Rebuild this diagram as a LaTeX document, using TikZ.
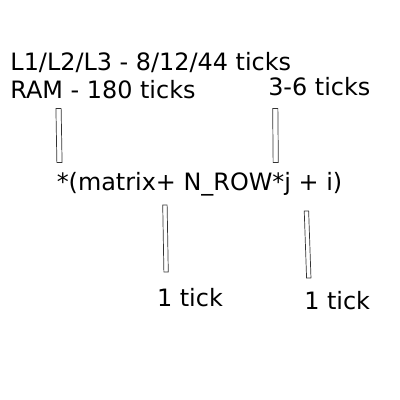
\documentclass[tikz,border=0pt]{standalone}
\usepackage{fontspec}
\setmainfont{DejaVu Sans}
\begin{document}
\begin{tikzpicture}[every node/.style={font=\fontsize{17}{20}\selectfont}]
            \useasboundingbox (0,0) rectangle (10,10);
            \tikzset{bar/.style={draw=black!80, line width=0.5pt, inner sep=0pt,
            minimum width=0.13cm}}
            \node[anchor=base west, inner sep=0pt] (cache) at (0.255,8.225) {L1/L2/L3 - 8/12/44 ticks};
            \node[anchor=base west, inner sep=0pt] (ram) at (0.255,7.525) {RAM - 180 ticks};
            \node[anchor=base west, inner sep=0pt] (reg) at (6.7,7.6) {3-6 ticks};
            \node[anchor=base west, inner sep=0pt] (expr) at (1.4125,5.225) {*(matrix+ N\_ROW*j + i)};
            \node[anchor=base west, inner sep=0pt] (tickA) at (3.92,2.325) {1 tick};
            \node[anchor=base west, inner sep=0pt] (tickB) at (7.6,2.25) {1 tick};
            \node[bar, minimum height=1.35cm, rotate=1] (deref) at (1.475,6.6125) {};
            \node[bar, minimum height=1.35cm, rotate=0.5] (mul) at (6.8875,6.6125) {};
            \node[bar, minimum height=1.675cm, minimum width=0.11cm, rotate=1] (plusA) at (4.1375,4.0375) {};
            \node[bar, minimum height=1.675cm, minimum width=0.11cm, rotate=2] (plusB) at (7.69,3.8875) {};
        \end{tikzpicture}
\end{document}
